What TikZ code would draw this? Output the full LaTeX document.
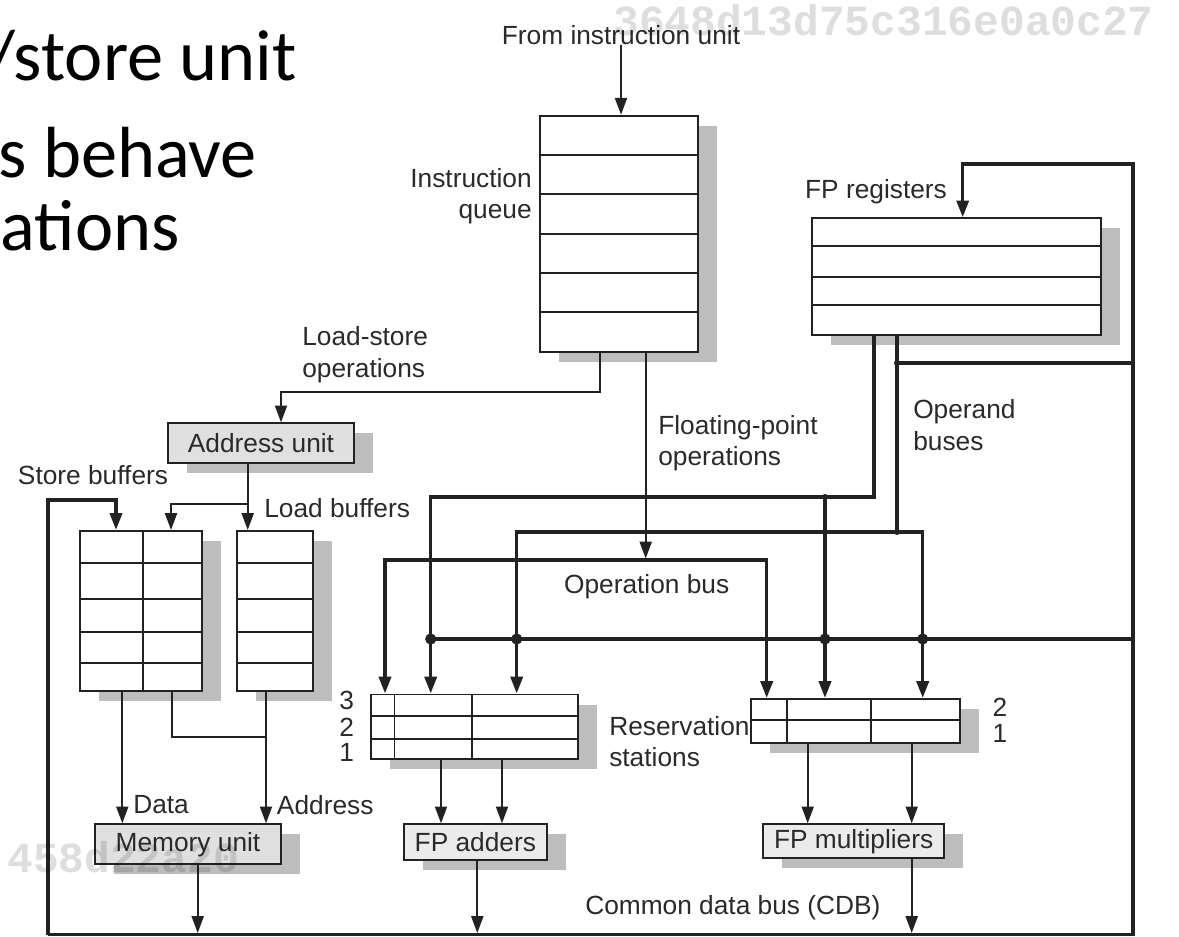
\documentclass[tikz,border=0pt]{standalone}
\usepackage{fontspec}
\setmainfont{Liberation Sans}
\newfontfamily\slidefont{Carlito}
\newfontfamily\hashfont{Liberation Mono}
\usetikzlibrary{arrows.meta,shadows}

\definecolor{ink}{HTML}{2A2A2A}
\definecolor{wireink}{HTML}{222222}
\definecolor{shade}{HTML}{BDBDBD}
\definecolor{unitfill}{HTML}{E0E0E0}
\definecolor{fpfill}{HTML}{EBEBEB}

\begin{document}
\begin{tikzpicture}[x=0.025cm,y=-0.025cm,
  lbl/.style={inner sep=0pt, text=ink, font=\fontsize{18.7pt}{22.4pt}\selectfont},
  box/.style={draw=wireink, line width=1.4pt, fill=white, inner sep=0pt,
    drop shadow={shadow xshift=0.475cm, shadow yshift=-0.25cm, fill=shade, opacity=1}},
  unitbox/.style={box, fill=unitfill, text=ink, font=\fontsize{18.7pt}{22.4pt}\selectfont},
  fpbox/.style={unitbox, fill=fpfill},
  cell/.style={draw=wireink, line width=1.4pt},
  wire/.style={draw=wireink, line width=1.4pt},
  bus/.style={draw=wireink, line width=2.5pt},
  arr/.style={-{Triangle[length=4.2mm,width=3mm]}},
  bigdot/.style={circle, fill=wireink, inner sep=0pt, minimum size=0.28cm},
  smalldot/.style={circle, fill=wireink, inner sep=0pt, minimum size=0.15cm},
  slide/.style={inner sep=0pt, text=black, font=\slidefont\fontsize{51.5pt}{60pt}\selectfont},
  hash/.style={inner sep=0pt, text=black, text opacity=0.13,
    font=\hashfont\bfseries\fontsize{30.5pt}{31pt}\selectfont},
]
\useasboundingbox (0,0) rectangle (1179,936);

% ---------- storage blocks ----------
\node[box, minimum width=3.95cm, minimum height=5.9cm] (iq) at (619,233.7) {};
\foreach \y in {155,194.3,233.6,273,312.3}
  \draw[cell] (iq.west |- 0,\y) -- (iq.east |- 0,\y);

\node[box, minimum width=7.225cm, minimum height=2.9175cm] (fpr) at (956.2,276.7) {};
\foreach \y in {245.7,276.7,305}
  \draw[cell] (fpr.west |- 0,\y) -- (fpr.east |- 0,\y);

\node[unitbox, minimum width=4.665cm, minimum height=1.0cm] (au) at (261,443.3) {Address unit};

\node[box, minimum width=3.0425cm, minimum height=4.0cm] (sb) at (140.85,611) {};
\foreach \y in {563,599,632,663}
  \draw[cell] (sb.west |- 0,\y) -- (sb.east |- 0,\y);
\coordinate (sbdiv) at (143.3,611);
\draw[cell] (sb.north -| sbdiv) -- (sb.south -| sbdiv);

\node[box, minimum width=1.885cm, minimum height=4.0cm] (lb) at (275,611) {};
\foreach \y in {563,599,632,663}
  \draw[cell] (lb.west |- 0,\y) -- (lb.east |- 0,\y);

\node[unitbox, minimum width=4.65cm, minimum height=1.0cm] (mu) at (188,844.3) {Memory unit};

\node[box, minimum width=5.1825cm, minimum height=1.6175cm] (ars) at (474.65,726.85) {};
\foreach \y in {716,738.7}
  \draw[cell] (ars.west |- 0,\y) -- (ars.east |- 0,\y);
\foreach \x in {394.5,471.7}
  \draw[cell] (ars.north -| \x,0) -- (ars.south -| \x,0);

\node[box, minimum width=5.225cm, minimum height=1.0925cm] (mrs) at (855.5,720.85) {};
\draw[cell] (mrs.west |- 0,720) -- (mrs.east |- 0,720);
\foreach \x in {786.7,871}
  \draw[cell] (mrs.north -| \x,0) -- (mrs.south -| \x,0);

\node[fpbox, minimum width=3.5675cm, minimum height=0.8925cm] (fpa) at (475.35,842.15) {FP adders};
\node[fpbox, minimum width=4.5175cm, minimum height=0.85cm] (fpm) at (853.65,841.3) {FP multipliers};

% ---------- labels ----------
\node[lbl] (fiu) at (621,35) {From instruction unit};
\node[lbl, align=right, anchor=east] (iqlbl) at (532,196) {Instruction\\queue};
\node[lbl] (fprlbl) at (876,192) {FP registers};
\node[lbl, align=left, anchor=west] (lslbl) at (302,354.5) {Load-store\\operations};
\node[lbl, align=left, anchor=west] (fplbl) at (658,443) {Floating-point\\operations};
\node[lbl, align=left, anchor=west] (oblbl) at (913,425) {Operand\\buses};
\node[lbl] (sblbl) at (93,475) {Store buffers};
\node[lbl, anchor=west] (lblbl) at (264,508) {Load buffers};
\node[lbl] (opbus) at (646.7,586.7) {Operation bus};
\node[lbl] (a3) at (346.7,700) {3};
\node[lbl] (a2) at (346.7,727) {2};
\node[lbl] (a1) at (346.7,752) {1};
\node[lbl, align=left, anchor=west] (rslbl) at (609,741.7) {Reservation\\stations};
\node[lbl] (m2) at (1000,707) {2};
\node[lbl] (m1) at (1000,733) {1};
\node[lbl, anchor=west] (datalbl) at (133,805) {Data};
\node[lbl, anchor=west] (addrlbl) at (276.7,805) {Address};
\node[lbl, anchor=west] (cdblbl) at (585,908) {Common data bus (CDB)};

% ---------- junction points ----------
\coordinate (cdbL) at (48,934.5);
\coordinate (cdbR) at (1133,934.5);
\coordinate (topR) at (1133,164);
\coordinate (topL) at (962.7,164);
\coordinate (sbfeed) at (48,500);
\coordinate (sbturn) at (116,500);
\coordinate (k) at (897,363);
\coordinate (c1) at (430.7,639);
\coordinate (c2) at (516.7,639);
\coordinate (c3) at (825,639);
\coordinate (c4) at (922.7,639);
\coordinate (o1a) at (874,497);
\coordinate (o1b) at (430.7,497);
\coordinate (o1c) at (825,497);
\coordinate (o2a) at (897,532);
\coordinate (o2b) at (516.7,532);
\coordinate (o2c) at (922.7,532);
\coordinate (p1) at (385,560);
\coordinate (p2) at (766.7,560);
\coordinate (pj) at (645.7,558.5);
\coordinate (ls1) at (600,391.7);
\coordinate (ls2) at (281,391.7);
\coordinate (aj) at (247.7,504);
\coordinate (sbj) at (171,504);
\coordinate (dcol) at (122.3,780);
\coordinate (bend) at (172.3,736.7);
\coordinate (addr) at (266,736.7);
\coordinate (mout) at (197.7,933);
\coordinate (aout) at (477.3,933);
\coordinate (mlout) at (911.7,933);
\coordinate (r1) at (441,790);
\coordinate (r2) at (502,790);
\coordinate (r3) at (807.7,790);
\coordinate (r4) at (911.7,790);

% ---------- common data bus and operand/operation buses ----------
\draw[bus, arr] (cdbL) -- (cdbR) -- (topR) -- (topL) -- (topL |- fpr.north);
\draw[bus, arr] (cdbL) -- (sbfeed) -- (sbturn) -- (sbturn |- sb.north);
\draw[bus] (k) -- (k -| cdbR);
\draw[bus] (c1) -- (c1 -| cdbR);

\draw[bus, arr] (fpr.south -| o1a) -- (o1a) -- (o1b) -- (o1b |- ars.north);
\draw[bus, arr] (o1c) -- (o1c |- mrs.north);

\draw[bus] (fpr.south -| o2a) -- (o2a);
\draw[bus, arr] (o2a) -- (o2b) -- (o2b |- ars.north);
\draw[bus, arr] (o2a) -- (o2c) -- (o2c |- mrs.north);

\draw[bus, {Triangle[length=4.2mm,width=3mm]}-{Triangle[length=4.2mm,width=3mm]}]
  (p1 |- ars.north) -- (p1) -- (p2) -- (p2 |- mrs.north);

\foreach \c in {c1,c2,c3,c4}
  \node[bigdot] (dot-\c) at (\c) {};
\foreach \c in {k,o1c,o2a}
  \node[smalldot] (dot-\c) at (\c) {};

% ---------- instruction and data paths ----------
\draw[wire, arr] (fiu.south) -- (fiu.south |- iq.north);
\draw[wire, arr] (iq.south -| ls1) -- (ls1) -- (ls2) -- (ls2 |- au.north);
\draw[wire, arr] (iq.south -| pj) -- (pj);
\draw[wire, arr] (au.south -| aj) -- (aj |- lb.north);
\draw[wire, arr] (aj) -- (sbj) -- (sbj |- sb.north);
\draw[wire, arr] (sb.south -| dcol) -- (dcol |- mu.north);
\draw[wire] (sb.south -| bend) -- (bend) -- (addr);
\draw[wire, arr] (lb.south -| addr) -- (addr |- mu.north);
\draw[wire, arr] (mu.south -| mout) -- (mout);
\draw[wire, arr] (ars.south -| r1) -- (r1 |- fpa.north);
\draw[wire, arr] (ars.south -| r2) -- (r2 |- fpa.north);
\draw[wire, arr] (mrs.south -| r3) -- (r3 |- fpm.north);
\draw[wire, arr] (mrs.south -| r4) -- (r4 |- fpm.north);
\draw[wire, arr] (fpa.south -| aout) -- (aout);
\draw[wire, arr] (fpm.south -| mlout) -- (mlout);

% ---------- slide text at the left edge ----------
\begin{scope}
  \clip (0,0) rectangle (1179,936);
  \node[slide, anchor=base east] (s1) at (297,80) {/store unit};
  \node[slide, anchor=base east] (s2) at (257,177) {s behave};
  \node[slide, anchor=base east] (s3) at (180,250) {ations};
  % faint hash stamps
  \node[hash, anchor=base west] (h1) at (613,35) {3648d13d75c316e0a0c27};
  \node[hash, anchor=base west] (h2) at (7,872) {458d22a20};
\end{scope}
\end{tikzpicture}
\end{document}
